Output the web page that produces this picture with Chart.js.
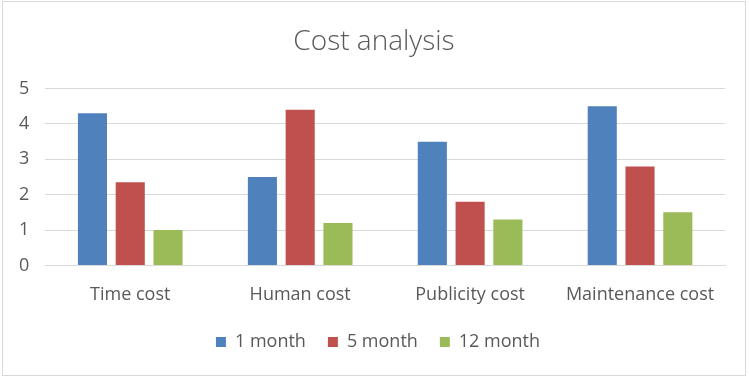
<!DOCTYPE html>
<html>
<head>
<meta charset="utf-8">
<script src="https://cdn.jsdelivr.net/npm/chart.js@4/dist/chart.umd.min.js"></script>
<style>
    html, body { margin: 0; padding: 0; background: #fff; }
    #wrap {
        position: absolute;
        left: 2px;
        top: 1px;
        width: 744px;
        height: 375px;
        border: 1px solid #d9d9d9;
        box-sizing: border-box;
    }
</style>
</head>
<body>
<div id="wrap"><canvas id="costChart"></canvas></div>
<script>
const categories = ["Time cost", "Human cost", "Publicity cost", "Maintenance cost"];
const oneMonth = [4.3, 2.5, 3.5, 4.5];
const fiveMonth = [2.35, 4.4, 1.8, 2.8];
const twelveMonth = [1.0, 1.2, 1.3, 1.5];

const COLORS = {
    blue: "#4f81bd",
    red: "#c0504d",
    green: "#9bbb59",
    text: "#595959",
    grid: "#d9d9d9",
};

const FONT = "'Open Sans', 'Liberation Sans', sans-serif";

// title and legend are centred on the whole chart, not on the plot area
const nudgeBlocks = {
    id: "nudgeBlocks",
    afterLayout(chart) {
        const legend = chart.legend;
        legend.left += 14;
        legend.right += 14;
        legend.top -= 6;
        legend.bottom -= 6;

        const title = chart.titleBlock;
        title.left += 10;
        title.right += 10;
    },
};

new Chart(document.getElementById("costChart"), {
    type: "bar",

    data: {
        labels: categories,

        datasets: [
            { label: "1 month", data: oneMonth, backgroundColor: COLORS.blue },
            { label: "5 month", data: fiveMonth, backgroundColor: COLORS.red },
            { label: "12 month", data: twelveMonth, backgroundColor: COLORS.green },
        ],
    },

    options: {
        responsive: true,
        maintainAspectRatio: false,
        animation: false,

        categoryPercentage: 0.667,
        barPercentage: 0.77,

        layout: { padding: { left: 0, right: 20, top: 0, bottom: 8 } },

        plugins: {
            title: {
                display: true,
                text: "Cost analysis",
                color: COLORS.text,
                font: { family: FONT, size: 28, weight: "300" },
                padding: { top: 23, bottom: 30 },
            },

            legend: {
                position: "bottom",
                labels: {
                    color: COLORS.text,
                    font: { family: FONT, size: 18 },
                    boxWidth: 10,
                    boxHeight: 10,
                    padding: 22,
                },
            },

            tooltip: { enabled: false },
        },

        scales: {
            x: {
                grid: { display: false },
                border: { color: COLORS.grid },
                ticks: { color: COLORS.text, font: { family: FONT, size: 18 }, padding: 11 },
            },

            y: {
                min: 0,
                max: 5,
                grid: { color: COLORS.grid, drawTicks: false },
                border: { display: false },
                ticks: {
                    stepSize: 1,
                    color: COLORS.text,
                    font: { family: FONT, size: 18 },
                    padding: 16,
                },
            },
        },
    },

    plugins: [nudgeBlocks],
});
</script>
</body>
</html>
